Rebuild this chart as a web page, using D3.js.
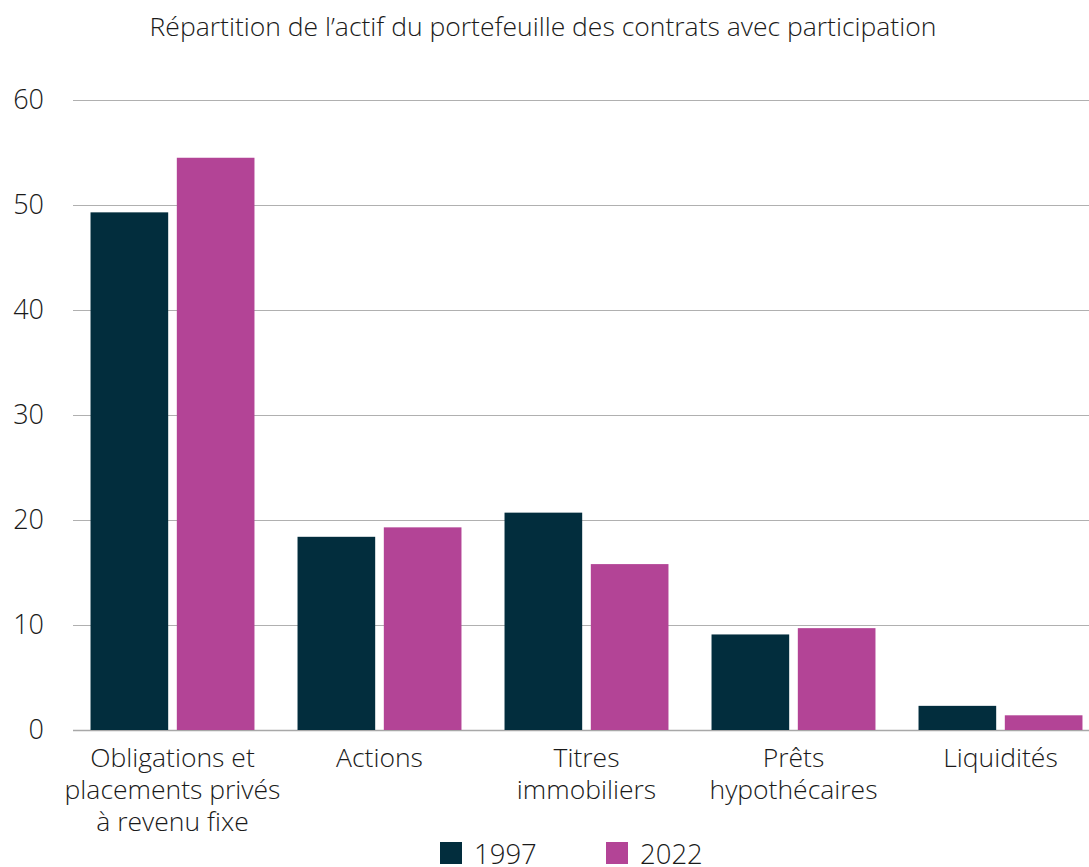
<!DOCTYPE html>
<html>
<head>
<meta charset="utf-8">
<script src="https://cdn.jsdelivr.net/npm/d3@7"></script>
<style>
  body { margin: 0; background: #fff; }
  text { font-family: "Open Sans", Lato, sans-serif; font-weight: 300; fill: #1a1a1a; }
</style>
</head>
<body>
<div id="chart"></div>
<script>
// data
var categories = [
    ["Obligations et", "placements privés", "à revenu fixe"],
    ["Actions"],
    ["Titres", "immobiliers"],
    ["Prêts", "hypothécaires"],
    ["Liquidités"]
];
var years = ["1997", "2022"];
var values1997 = [49.3, 18.4, 20.7, 9.1, 2.3];
var values2022 = [54.5, 19.3, 15.8, 9.7, 1.4];
var yTicks = [0, 10, 20, 30, 40, 50, 60];
var colors = ["#022d3d", "#b34496"];

var width = 1089, height = 867;

var svg = d3.select('#chart').append('svg')
    .attr('width', width)
    .attr('height', height);

var keys = categories.map(function(c) { return c.join(' '); });

var y = d3.scaleLinear().domain([0, 60]).range([730, 100]);

var x0 = d3.scaleBand()
    .domain(keys)
    .range([69, 1104])
    .paddingInner(0.208)
    .paddingOuter(0.104);

var x1 = d3.scaleBand()
    .domain(years)
    .range([0, x0.bandwidth()])
    .paddingInner(0.1);

// title
svg.append('text')
    .attr('x', 543)
    .attr('y', 36)
    .attr('text-anchor', 'middle')
    .style('font-size', '26.5px')
    .text("Répartition de l’actif du portefeuille des contrats avec participation");

// gridlines
svg.append('g').selectAll('line')
    .data(yTicks)
    .join('line')
    .attr('x1', 73)
    .attr('x2', 1089)
    .attr('y1', function(d) { return y(d) + 0.5; })
    .attr('y2', function(d) { return y(d) + 0.5; })
    .attr('stroke', function(d) { return d === 0 ? '#a8a8a8' : '#b0b0b0'; })
    .attr('stroke-width', function(d) { return d === 0 ? 1.5 : 1; });

// y labels
svg.append('g').selectAll('text')
    .data(yTicks)
    .join('text')
    .attr('x', 44)
    .attr('y', function(d) { return y(d); })
    .attr('dy', '0.35em')
    .attr('text-anchor', 'end')
    .style('font-size', '27px')
    .text(function(d) { return d; });

// bars
var rows = keys.map(function(k, i) {
    return { key: k, vals: [values1997[i], values2022[i]] };
});

var groups = svg.append('g').selectAll('g')
    .data(rows)
    .join('g')
    .attr('transform', function(d) { return 'translate(' + x0(d.key) + ',0)'; });

groups.selectAll('rect')
    .data(function(d) { return d.vals.map(function(v, j) { return { year: years[j], v: v, j: j }; }); })
    .join('rect')
    .attr('x', function(d) { return x1(d.year); })
    .attr('y', function(d) { return y(d.v); })
    .attr('width', x1.bandwidth())
    .attr('height', function(d) { return y(0) - y(d.v); })
    .attr('fill', function(d) { return colors[d.j]; });

// category labels
var labels = svg.append('g').selectAll('text')
    .data(categories)
    .join('text')
    .attr('text-anchor', 'middle')
    .attr('transform', function(d, i) { return 'translate(' + (x0(keys[i]) + x0.bandwidth() / 2) + ',767)'; })
    .style('font-size', '26.5px');

labels.selectAll('tspan')
    .data(function(d) { return d; })
    .join('tspan')
    .attr('x', 0)
    .attr('y', function(d, i) { return i * 32; })
    .text(function(d) { return d; });

// legend
var legend = svg.append('g').attr('transform', 'translate(440,842)');
var legItems = legend.selectAll('g')
    .data(years)
    .join('g')
    .attr('transform', function(d, i) { return 'translate(' + (i * 166) + ',0)'; });

legItems.append('rect')
    .attr('width', 22)
    .attr('height', 22)
    .attr('fill', function(d, i) { return colors[i]; });

legItems.append('text')
    .attr('x', 34)
    .attr('y', 22)
    .style('font-size', '27.5px')
    .text(function(d) { return d; });
</script>
</body>
</html>
